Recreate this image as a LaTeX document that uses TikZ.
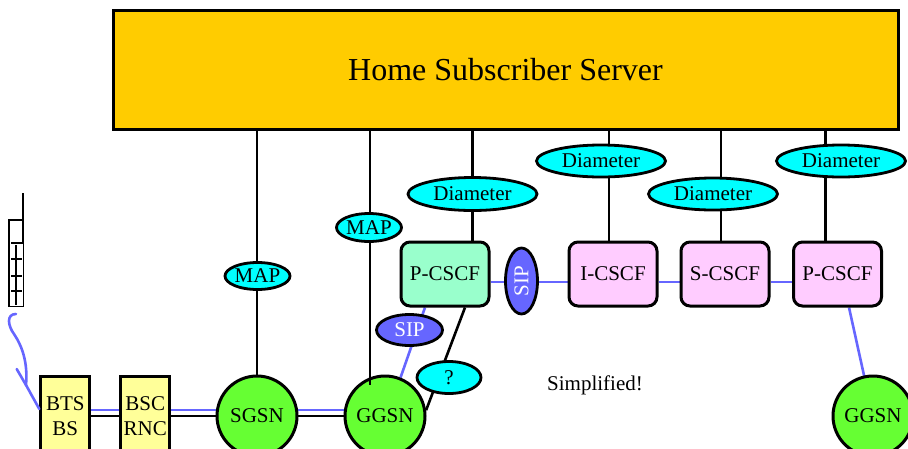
\documentclass[tikz,border=0pt]{standalone}
\usepackage{fontspec}
\setmainfont{Liberation Serif}
\usetikzlibrary{shapes.geometric,backgrounds}
\definecolor{hssfill}{HTML}{FFCC00}
\definecolor{lblcyan}{HTML}{00FFFF}
\definecolor{nodegreen}{HTML}{66FF33}
\definecolor{boxyellow}{HTML}{FFFF99}
\definecolor{mint}{HTML}{99FFCC}
\definecolor{pinkbox}{HTML}{FFCCFF}
\definecolor{sipblue}{HTML}{6666FF}
\begin{document}
\begin{tikzpicture}[x=1pt,y=-1pt,
  every node/.style={font=\fontsize{21}{25}\selectfont, inner sep=0pt},
  lbl/.style={ellipse, draw, line width=2.8pt, fill=lblcyan},
  siplbl/.style={ellipse, draw, line width=2.8pt, fill=sipblue, text=white},
  cscf/.style={rectangle, rounded corners=9pt, draw, line width=3pt, minimum width=88pt, minimum height=64pt},
  gsn/.style={circle, draw, line width=3pt, fill=nodegreen, minimum size=80pt},
  bsbox/.style={rectangle, draw, line width=3pt, fill=boxyellow, minimum width=49pt, minimum height=80pt, align=center},
  blk/.style={line width=2.6pt, black},
  blu/.style={line width=2.6pt, sipblue},
  phone/.style={line width=1.2pt, black}]
\useasboundingbox (0,0) rectangle (908,448);

% HSS
\node[draw, line width=3pt, fill=hssfill, minimum width=785pt, minimum height=119pt,
      font=\fontsize{32}{36}\selectfont] (HSS) at (505.5,69.5) {Home Subscriber Server};

% label ellipses
\node[lbl, minimum width=65pt, minimum height=27pt] (MAP1) at (257.5,276) {MAP};
\node[lbl, minimum width=65pt, minimum height=28pt] (MAP2) at (369,227.5) {MAP};
\node[lbl, minimum width=129pt, minimum height=33pt] (D1) at (472.5,194) {Diameter};
\node[lbl, minimum width=129pt, minimum height=32pt] (D2) at (601,161) {Diameter};
\node[lbl, minimum width=129pt, minimum height=32pt] (D3) at (713,194) {Diameter};
\node[lbl, minimum width=129pt, minimum height=32pt] (D4) at (841,161) {Diameter};
\node[lbl, minimum width=64pt, minimum height=32pt] (Q) at (449,377.5) {?};
\node[siplbl, minimum width=66pt, minimum height=32pt, rotate=90] (SIPV) at (521.5,281) {SIP};
\node[siplbl, minimum width=66pt, minimum height=31pt] (SIPH) at (409.5,330) {SIP};

% CSCF boxes
\node[cscf, fill=mint] (PL) at (445,274) {P-CSCF};
\node[cscf, fill=pinkbox] (IC) at (613,274) {I-CSCF};
\node[cscf, fill=pinkbox] (SC) at (725,274) {S-CSCF};
\node[cscf, fill=pinkbox] (PR) at (837.5,274) {P-CSCF};

% GSN nodes
\node[gsn] (SGSN) at (257,416) {SGSN};
\node[gsn] (GGSN) at (385,416) {GGSN};
\node[gsn] (GR) at (873,416) {GGSN};

% radio boxes
\node[bsbox] (BTS) at (65.3,416) {BTS\\BS};
\node[bsbox] (BSC) at (145.3,416) {BSC\\RNC};

\node (simp) at (595,385) {Simplified!};

\coordinate (g1) at (370,385);

\begin{scope}[on background layer]
  % vertical lines from HSS
  \draw[blk] (SGSN |- HSS.south) -- (SGSN.center);
  \draw[blk] (g1 |- HSS.south) -- (g1);
  \draw[blk] (D1 |- HSS.south) -- (D1 |- PL.north);
  \draw[blk] ([xshift=-4pt]IC.north |- HSS.south) -- ([xshift=-4pt]IC.north);
  \draw[blk] ([xshift=-4pt]SC.north |- HSS.south) -- ([xshift=-4pt]SC.north);
  \draw[blk] ([xshift=-12pt]PR.north |- HSS.south) -- ([xshift=-12pt]PR.north);
  % access double lines
  \draw[blu] ([yshift=6pt]BTS.east) -- ([yshift=6pt]BSC.west);
  \draw[blk] (BTS.east) -- (BSC.west);
  \draw[blu] ([yshift=6pt]BSC.east) -- ([yshift=6pt]SGSN.center);
  \draw[blk] (BSC.east) -- (SGSN.center);
  \draw[blu] ([yshift=6pt]SGSN.center) -- ([yshift=6pt]GGSN.center);
  \draw[blk] (SGSN.center) -- (GGSN.center);
  % IMS signalling
  \draw[blu] ([yshift=-8pt]PL.east) -- ([yshift=-8pt]IC.west);
  \draw[blu] ([yshift=-8pt]IC.east) -- ([yshift=-8pt]SC.west);
  \draw[blu] ([yshift=-8pt]SC.east) -- ([yshift=-8pt]PR.west);
  \draw[blu] ([xshift=-20pt]PL.south) -- (GGSN.68);
  \draw[blk] ([xshift=20pt]PL.south) -- (GGSN.8);
  \draw[blu] ([xshift=11.5pt]PR.south) -- (GR.center);
\end{scope}

% GGSN interior tick of the MAP line
\draw[blk] (370,376) -- (g1);

% mobile phone
\draw[phone] (9,220) rectangle (23.3,306.7);
\draw[line width=2pt] (23.3,193) -- (23.3,243);
\draw[phone] (11,243) -- (23.3,243);
\draw[phone] (16,245) -- (16,305);
\draw[phone] (11,259) -- (22,259);
\draw[phone] (11,276) -- (22,276);
\draw[phone] (11,291) -- (22,291);

% radio link
\draw[blu, line cap=round, line join=round] (16,314) .. controls (6,314) and (8,326) .. (14,334)
   .. controls (22,346) and (28,362) .. (26,385) -- ([yshift=7pt]BTS.west);
\draw[blu, line cap=round] (16.7,369) -- (26,385);
\end{tikzpicture}
\end{document}
